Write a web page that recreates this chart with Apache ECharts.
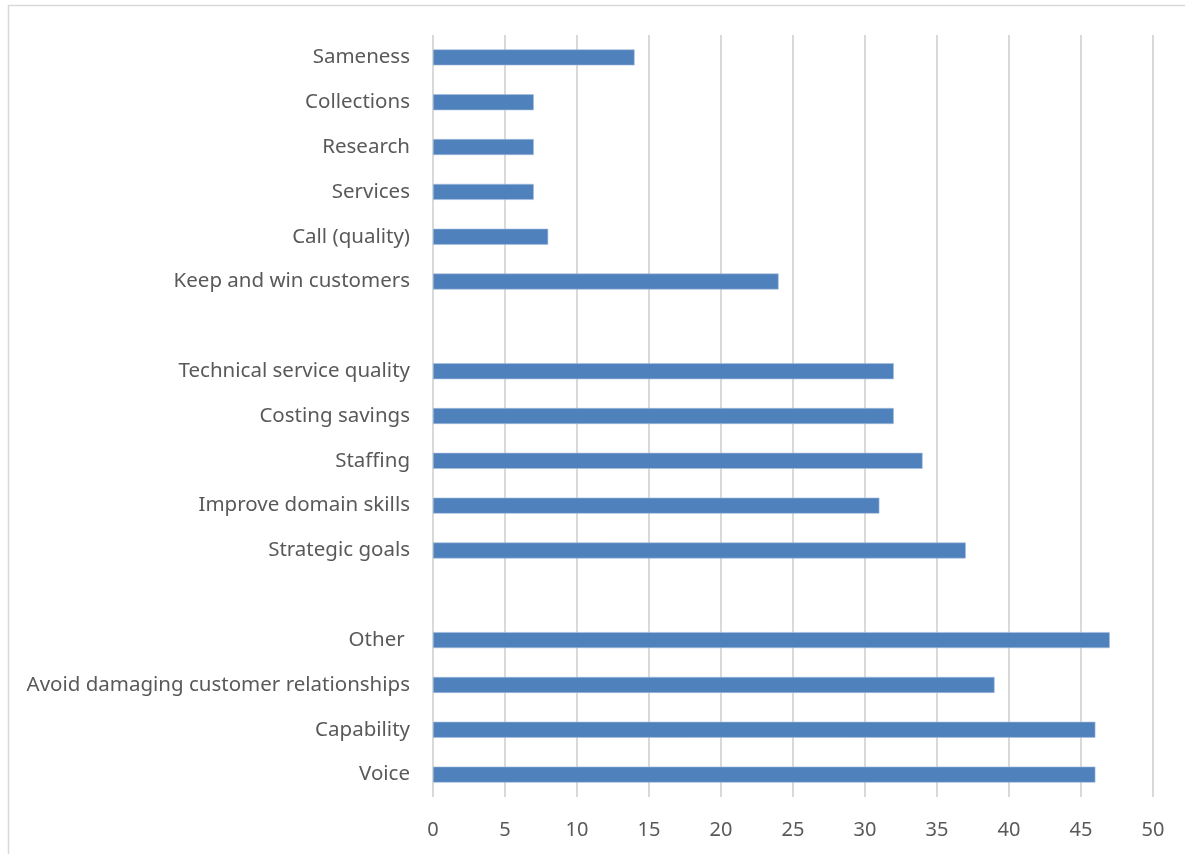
<!DOCTYPE html>
<html>
<head>
<meta charset="utf-8">
<script src="https://cdn.jsdelivr.net/npm/echarts@6/dist/echarts.min.js"></script>
<style>html,body{margin:0;padding:0;background:#fff}#c{width:1185px;height:854px}</style>
</head>
<body>
<div id="c"></div>
<script>
// Categories listed bottom to top
const categories = ['Voice','Capability','Avoid damaging customer relationships','Other ','',
  'Strategic goals','Improve domain skills','Staffing','Costing savings','Technical service quality','',
  'Keep and win customers','Call (quality)','Services','Research','Collections','Sameness'];
const values = [46,46,39,47,null,37,31,34,32,32,null,24,8,7,7,7,14];
const xTicks = {min:0, max:50, interval:5};

const chart = echarts.init(document.getElementById('c'), null, {renderer:'canvas'});
const font = '"Noto Sans", "Open Sans", sans-serif';
chart.setOption({
  animation:false,
  backgroundColor:'#fff',
  graphic:[{type:'rect',shape:{x:8.5,y:5.5,width:1200,height:900},style:{fill:null,stroke:'#d9d9d9',lineWidth:1.5},silent:true}],
  grid:{left:433,right:32,top:35,bottom:57},
  xAxis:{type:'value',min:xTicks.min,max:xTicks.max,interval:xTicks.interval,
    axisLine:{show:false},axisTick:{show:false},
    axisLabel:{color:'#595959',fontSize:20,fontFamily:font,margin:23},
    splitLine:{show:true,lineStyle:{color:'#d9d9d9',width:2}}},
  yAxis:{type:'category',data:categories,
    axisLine:{show:false},axisTick:{show:false},
    axisLabel:{color:'#595959',fontSize:20.5,fontFamily:font,margin:23,interval:0},
    splitLine:{show:false}},
  series:[{type:'bar',data:values,barWidth:16,
    itemStyle:{color:'#4f81bd',borderColor:'#a7c0de',borderWidth:0.6}}]
});
</script>
</body>
</html>
